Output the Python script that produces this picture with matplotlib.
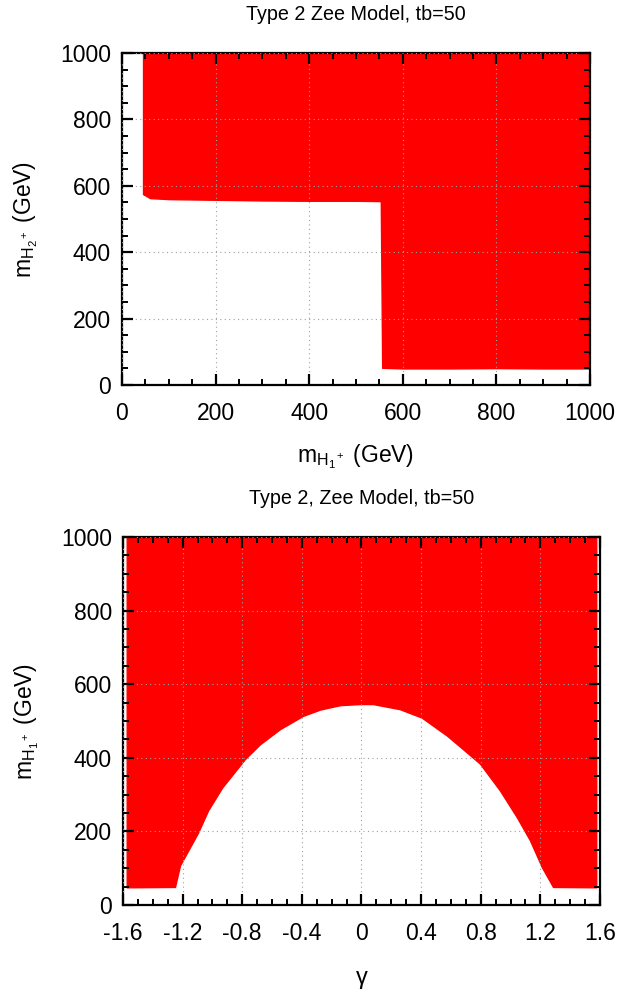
import matplotlib
matplotlib.use("Agg")
import matplotlib.pyplot as plt
from matplotlib.ticker import MultipleLocator

plt.rcParams['font.family'] = ['Liberation Sans', 'DejaVu Sans']
plt.rcParams['mathtext.fontset'] = 'custom'
plt.rcParams['mathtext.rm'] = 'Liberation Sans'
plt.rcParams['mathtext.it'] = 'Liberation Sans'

# Allowed region, upper panel: lower edge of m_H2+ as a function of m_H1+ (GeV)
mH1_edge = [45, 60, 100, 200, 300, 400, 500, 553, 556, 600, 700, 800, 900, 1000]
mH2_min = [575, 563, 560, 558, 556, 555, 555, 554, 52, 50, 50, 51, 50, 50]
mass_max = 1000

# Allowed region, lower panel: lower edge of m_H1+ as a function of gamma
gamma_edge = [-1.575, -1.251, -1.217, -1.150, -1.096, -1.029, -0.935, -0.781, -0.680,
              -0.546, -0.392, -0.278, -0.144, -0.010, 0.077, 0.258, 0.405, 0.574,
              0.694, 0.795, 0.929, 1.043, 1.130, 1.210, 1.285, 1.575]
mH1_min = [48, 49, 108, 157, 197, 257, 319, 397, 437,
           478, 514, 531, 543, 546, 546, 532, 509, 460,
           419, 384, 311, 238, 176, 103, 49, 48]

top_xticks = [0, 200, 400, 600, 800, 1000]
mass_yticks = [0, 200, 400, 600, 800, 1000]
gamma_ticks = [-1.6, -1.2, -0.8, -0.4, 0, 0.4, 0.8, 1.2, 1.6]
gamma_labels = ['-1.6', '-1.2', '-0.8', '-0.4', '0', '0.4', '0.8', '1.2', '1.6']

RED = '#ff0000'

fig = plt.figure(figsize=(6.22, 9.97), dpi=100)
ax1 = fig.add_axes([0.1961, 0.6138, 0.7524, 0.3330])
ax2 = fig.add_axes([0.1977, 0.0923, 0.7669, 0.3691])


def style(ax, xminor, yminor):
    ax.xaxis.set_minor_locator(MultipleLocator(xminor))
    ax.yaxis.set_minor_locator(MultipleLocator(yminor))
    ax.tick_params(which='both', direction='in', top=True, right=True, labelsize=16.5)
    ax.tick_params(axis='x', which='major', pad=12)
    ax.tick_params(axis='y', which='major', pad=8)
    ax.tick_params(which='major', length=8, width=1.6)
    ax.tick_params(which='minor', length=4.5, width=1.4)
    for s in ax.spines.values():
        s.set_linewidth(1.6)
    ax.grid(True, which='major', color='#a0a0a0', linestyle=(0, (1, 3)), linewidth=0.8)
    ax.set_axisbelow(False)


# Upper panel
ax1.fill_between(mH1_edge, mH2_min, mass_max, color=RED, linewidth=1.0,
                 edgecolor=RED, zorder=1)
ax1.set_xlim(0, 1000)
ax1.set_ylim(0, 1000)
ax1.set_xticks(top_xticks)
ax1.set_yticks(mass_yticks)
style(ax1, 50, 50)
ax1.set_title('Type 2 Zee Model, tb=50', fontsize=14.2, pad=24)
ax1.set_xlabel(r'$\mathrm{m}_{\mathrm{H}_1{}^+}$ (GeV)', fontsize=16.5, labelpad=13)
ax1.set_ylabel(r'$\mathrm{m}_{\mathrm{H}_2{}^+}$ (GeV)', fontsize=16.5, labelpad=14)

# Lower panel
ax2.fill_between(gamma_edge, mH1_min, mass_max, color=RED, linewidth=1.0,
                 edgecolor=RED, zorder=1)
ax2.set_xlim(-1.6, 1.6)
ax2.set_ylim(0, 1000)
ax2.set_xticks(gamma_ticks)
ax2.set_xticklabels(gamma_labels)
ax2.set_yticks(mass_yticks)
style(ax2, 0.1, 50)
ax2.set_title('Type 2, Zee Model, tb=50', fontsize=14.2, pad=24)
ax2.set_xlabel('γ', fontsize=17, labelpad=16)
ax2.set_ylabel(r'$\mathrm{m}_{\mathrm{H}_1{}^+}$ (GeV)', fontsize=16.5, labelpad=14)

fig.savefig('out.png', dpi=100)
